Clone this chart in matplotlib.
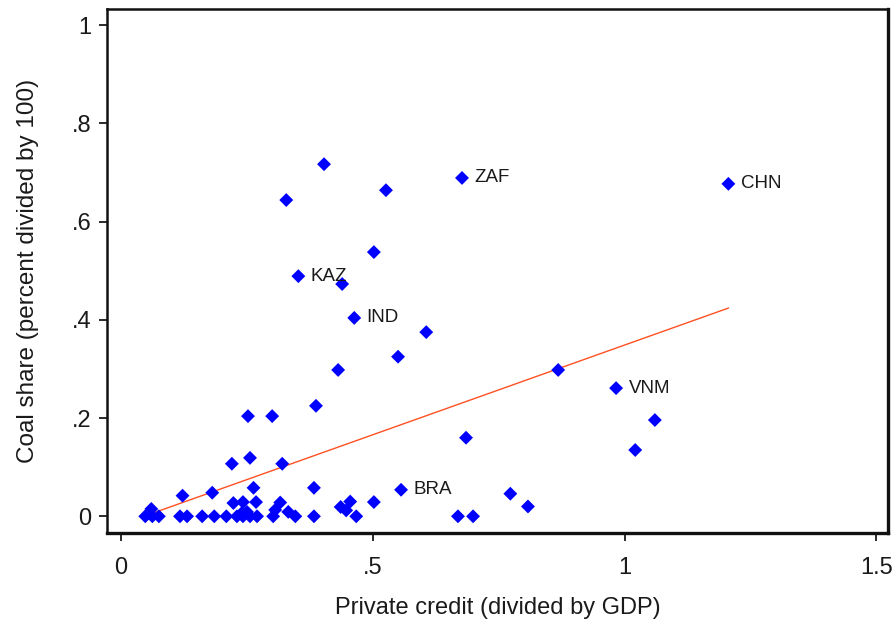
import numpy as np
import matplotlib
matplotlib.use("Agg")
import matplotlib.pyplot as plt

plt.rcParams["font.family"] = ["Liberation Sans", "DejaVu Sans"]

# private credit / GDP and coal share for each country
credit = [1.206, 0.677, 0.403, 0.328, 0.526, 0.502, 0.352, 0.439, 0.463, 0.606,
          0.550, 0.431, 0.868, 0.983, 1.060, 1.021, 0.685, 0.387, 0.252, 0.300,
          0.220, 0.256, 0.320, 0.556, 0.773, 0.808,
          0.122, 0.181, 0.263, 0.383, 0.060, 0.223, 0.242, 0.268, 0.316, 0.306,
          0.332, 0.436, 0.455, 0.447, 0.502, 0.250, 0.240,
          0.048, 0.062, 0.075, 0.117, 0.131, 0.161, 0.185, 0.209, 0.230, 0.242,
          0.256, 0.270, 0.302, 0.346, 0.383, 0.467, 0.669, 0.699]
coal = [0.677, 0.689, 0.717, 0.644, 0.664, 0.538, 0.489, 0.473, 0.404, 0.375,
        0.325, 0.298, 0.298, 0.261, 0.196, 0.135, 0.160, 0.225, 0.204, 0.204,
        0.107, 0.119, 0.107, 0.054, 0.046, 0.020,
        0.042, 0.048, 0.058, 0.058, 0.015, 0.027, 0.029, 0.029, 0.028, 0.013,
        0.009, 0.019, 0.030, 0.012, 0.029, 0.009, 0.007,
        0.0, 0.0, 0.0, 0.0, 0.0, 0.0, 0.0, 0.0, 0.0, 0.0,
        0.0, 0.0, 0.0, 0.0, 0.0, 0.0, 0.0, 0.0]

# labelled countries
lbl_names = ["CHN", "ZAF", "KAZ", "IND", "VNM", "BRA"]
lbl_x = [1.206, 0.677, 0.352, 0.463, 0.983, 0.556]
lbl_y = [0.677, 0.689, 0.489, 0.404, 0.261, 0.054]

# linear fit line end points
fit_x = [0.048, 1.206]
fit_y = [0.001, 0.424]

txt = "#1a1a1a"

fig = plt.figure(figsize=(8.94, 6.24), dpi=100)
ax = fig.add_axes([107 / 894, 1 - 533 / 624, (888 - 107) / 894, (533 - 9) / 624])

ax.scatter(credit, coal, marker="D", s=50, color="#0000ff", edgecolors="none", zorder=3)
ax.plot(fit_x, fit_y, color="#ff5022", linewidth=1.0, zorder=2)

for name, x, y in zip(lbl_names, lbl_x, lbl_y):
    ax.annotate(name, (x, y), xytext=(9, 0), textcoords="offset points",
                va="center", ha="left", fontsize=13.5, color=txt)

ax.set_xlim(-0.028, 1.523)
ax.set_ylim(-0.034, 1.033)
ax.set_xticks([0, 0.5, 1, 1.5])
ax.set_xticklabels(["0", ".5", "1", "1.5"])
ax.set_yticks([0, 0.2, 0.4, 0.6, 0.8, 1])
ax.set_yticklabels(["0", ".2", ".4", ".6", ".8", "1"])
ax.tick_params(axis="both", direction="out", length=6, width=1.3, labelsize=17,
               colors=txt)
ax.tick_params(axis="x", pad=11)
ax.tick_params(axis="y", pad=5)

for s in ax.spines.values():
    s.set_linewidth(1.8)
    s.set_color("#111111")
ax.spines["bottom"].set_linewidth(2.4)
ax.spines["right"].set_linewidth(2.4)

ax.set_xlabel("Private credit (divided by GDP)", fontsize=17, color=txt)
ax.set_ylabel("Coal share (percent divided by 100)", fontsize=17.5, color=txt)
ax.xaxis.set_label_coords(0.5, -0.122)
ax.yaxis.set_label_coords(-0.087, 0.5)

fig.savefig("out.png", dpi=100)
